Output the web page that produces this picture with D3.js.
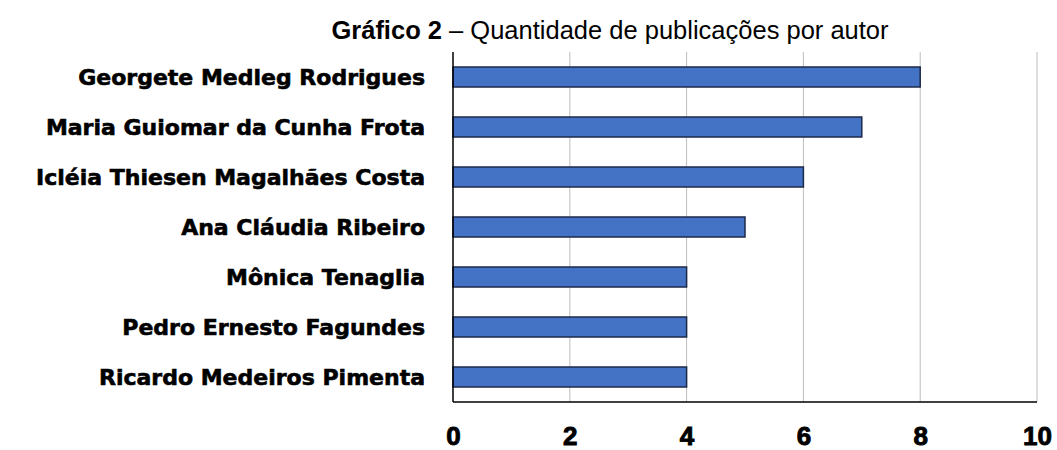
<!DOCTYPE html>
<html>
<head>
<meta charset="utf-8">
<script src="https://cdn.jsdelivr.net/npm/d3@7/dist/d3.min.js"></script>
<style>
  body { margin: 0; background: #fff; }
  .label { font-family: "DejaVu Sans", sans-serif; font-weight: bold; font-size: 22px; fill: #000; stroke: #000; stroke-width: 0.6px; }
  .tick text { font-family: "Liberation Sans", Arial, sans-serif; font-weight: bold; font-size: 26px; fill: #000; stroke: #000; stroke-width: 0.9px; }
</style>
</head>
<body>
<script>
// data
var authors = ["Georgete Medleg Rodrigues", "Maria Guiomar da Cunha Frota",
               "Icléia Thiesen Magalhães Costa", "Ana Cláudia Ribeiro",
               "Mônica Tenaglia", "Pedro Ernesto Fagundes", "Ricardo Medeiros Pimenta"];
var publications = [8, 7, 6, 5, 4, 4, 4];
var xTicks = [0, 2, 4, 6, 8, 10];

// canvas
var W = 1057, H = 450;
var margin = {top: 52, right: 20, bottom: 48, left: 453},
    width = 1037 - margin.left,
    height = 402 - margin.top;

var svg = d3.select("body").append("svg")
    .attr("width", W)
    .attr("height", H);

// title
var title = svg.append("text")
    .attr("x", 610)
    .attr("y", 39)
    .attr("text-anchor", "middle")
    .style("font-family", "Liberation Sans, Arial, sans-serif")
    .style("font-size", "25.5px");
title.append("tspan").style("font-weight", "bold").text("Gráfico 2");
title.append("tspan").text(" – Quantidade de publicações por autor");

var g = svg.append("g")
    .attr("transform", "translate(" + margin.left + "," + margin.top + ")");

// scales
var x = d3.scaleLinear().domain([0, 10]).range([0, width]);
var y = d3.scaleBand().domain(authors).range([0, height]).paddingInner(0.6).paddingOuter(0.3);

// gridlines
g.selectAll(".grid")
    .data(xTicks.slice(1))
    .enter().append("line")
    .attr("class", "grid")
    .attr("x1", function(d) { return x(d); })
    .attr("x2", function(d) { return x(d); })
    .attr("y1", 0)
    .attr("y2", height)
    .attr("stroke", "#bdbdbd")
    .attr("stroke-width", 1);

// bars
g.selectAll(".bar")
    .data(publications)
    .enter().append("rect")
    .attr("class", "bar")
    .attr("x", x(0))
    .attr("y", function(d, i) { return y(authors[i]); })
    .attr("width", function(d) { return x(d) - x(0); })
    .attr("height", y.bandwidth())
    .attr("fill", "#4472c4")
    .attr("stroke", "#1c2a4a")
    .attr("stroke-width", 1.5);

// author labels
g.selectAll(".label")
    .data(authors)
    .enter().append("text")
    .attr("class", "label")
    .attr("x", -28)
    .attr("y", function(d) { return y(d) + y.bandwidth() / 2; })
    .attr("dy", "0.36em")
    .attr("text-anchor", "end")
    .text(function(d) { return d; });

// x axis
var xAxis = g.append("g")
    .attr("transform", "translate(0," + height + ")")
    .call(d3.axisBottom(x).tickValues(xTicks).tickSize(0).tickPadding(25));
xAxis.select(".domain").remove();

// axis lines
g.append("line")
    .attr("x1", 0).attr("x2", 0)
    .attr("y1", 0).attr("y2", height)
    .attr("stroke", "#000").attr("stroke-width", 1.5);
g.append("line")
    .attr("x1", 0).attr("x2", width)
    .attr("y1", height).attr("y2", height)
    .attr("stroke", "#000").attr("stroke-width", 1.5);
</script>
</body>
</html>
